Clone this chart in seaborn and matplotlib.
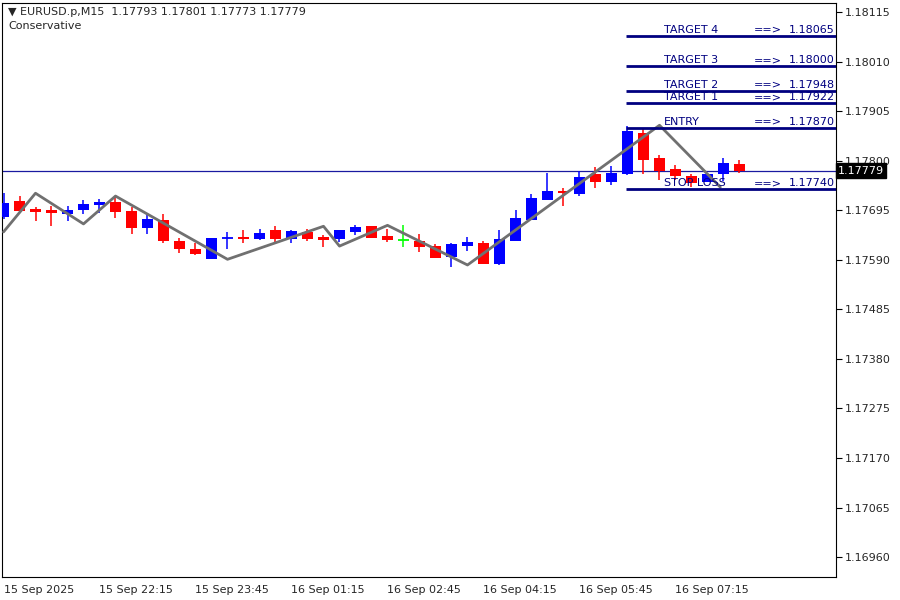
import matplotlib
matplotlib.use("Agg")
import matplotlib.pyplot as plt
import seaborn as sns
import pandas as pd
import numpy as np

opens  = [1.17680,1.17714,1.17697,1.17695,1.17687,1.17695,1.17706,1.17712,1.17693,1.17657,
          1.17674,1.17629,1.17613,1.17591,1.17636,1.17638,1.17634,1.17653,1.17634,1.17649,
          1.17638,1.17634,1.17649,1.17661,1.17640,1.17632,1.17629,1.17619,1.17596,1.17619,
          1.17625,1.17581,1.17629,1.17674,1.17716,1.17736,1.17729,1.17772,1.17755,1.17772,
          1.17858,1.17805,1.17782,1.17767,1.17755,1.17772,1.17793]
highs  = [1.17731,1.17725,1.17702,1.17704,1.17704,1.17716,1.17719,1.17725,1.17702,1.17687,
          1.17687,1.17636,1.17625,1.17636,1.17649,1.17653,1.17655,1.17661,1.17653,1.17655,
          1.17642,1.17653,1.17663,1.17661,1.17655,1.17663,1.17644,1.17623,1.17625,1.17638,
          1.17629,1.17653,1.17695,1.17729,1.17774,1.17742,1.17778,1.17786,1.17789,1.17873,
          1.17867,1.17812,1.17791,1.17772,1.17772,1.17805,1.17801]
lows   = [1.17676,1.17689,1.17672,1.17661,1.17672,1.17687,1.17689,1.17678,1.17644,1.17644,
          1.17625,1.17604,1.17600,1.17591,1.17613,1.17625,1.17632,1.17623,1.17625,1.17629,
          1.17617,1.17627,1.17642,1.17636,1.17627,1.17617,1.17606,1.17593,1.17574,1.17608,
          1.17581,1.17579,1.17629,1.17674,1.17716,1.17704,1.17725,1.17742,1.17748,1.17769,
          1.17772,1.17759,1.17759,1.17744,1.17755,1.17757,1.17773]
closes = [1.17710,1.17693,1.17691,1.17689,1.17695,1.17708,1.17712,1.17691,1.17657,1.17676,
          1.17629,1.17613,1.17602,1.17636,1.17638,1.17634,1.17646,1.17634,1.17651,1.17634,
          1.17632,1.17653,1.17659,1.17636,1.17632,1.17632,1.17617,1.17593,1.17623,1.17627,
          1.17581,1.17634,1.17678,1.17721,1.17736,1.17731,1.17765,1.17755,1.17774,1.17863,
          1.17801,1.17778,1.17767,1.17752,1.17772,1.17795,1.17779]

zz_idx = [0, 2, 5, 7, 14, 20, 21, 24, 29, 41, 44.8]
zz_price = [1.17649,1.17731,1.17666,1.17725,1.17591,1.17661,1.17619,1.17663,1.17579,1.17875,1.17744]

level_names = ["TARGET 4","TARGET 3","TARGET 2","TARGET 1","ENTRY","STOP LOSS"]
level_values = [1.18065,1.18000,1.17948,1.17922,1.17870,1.17740]

ytick_vals = [1.18115,1.18010,1.17905,1.17800,1.17695,1.17590,1.17485,1.17380,1.17275,1.17170,1.17065,1.16960]
xtick_idx = [0,6,12,18,24,30,36,42]
xtick_labels = ["15 Sep 2025","15 Sep 22:15","15 Sep 23:45","16 Sep 01:15",
                "16 Sep 02:45","16 Sep 04:15","16 Sep 05:45","16 Sep 07:15"]
last_price = 1.17779

sns.set_style("white")
plt.rcParams['font.family'] = ['DejaVu Sans']

df = pd.DataFrame({"o":opens,"h":highs,"l":lows,"c":closes})
df["i"] = np.arange(len(df))

fig = plt.figure(figsize=(9,6), dpi=100)
ax = fig.add_axes([2/900, 23/600, 834/900, 574/600])

for _, r in df.iterrows():
    if r.c > r.o:
        col = "#0000ff"
    elif r.c < r.o:
        col = "#ff0000"
    else:
        col = "#00ff00"
    ax.vlines(r.i, r.l, r.h, color=col, lw=1.1, zorder=3)
    bot = min(r.o, r.c); hgt = abs(r.c - r.o)
    if hgt < 0.00002:
        ax.hlines(r.o, r.i-0.33, r.i+0.33, color=col, lw=1.3, zorder=3)
    else:
        ax.bar(r.i, hgt, bottom=bot, width=0.65, color=col, zorder=3, linewidth=0)

zz = pd.DataFrame({"x":zz_idx,"y":zz_price})
sns.lineplot(data=zz, x="x", y="y", ax=ax, color="#707070", lw=2, sort=False, zorder=4)

ax.axhline(last_price, color="#1a1aa0", lw=0.9, zorder=2)

for name, v in zip(level_names, level_values):
    ax.hlines(v, 38.9, 52.5, color="#000080", lw=2, zorder=5)
    ax.text(41.3, v+0.00002, name, color="#000080", fontsize=8, ha="left", va="bottom", zorder=6)
    ax.text(46.9, v+0.00002, "==>", color="#000080", fontsize=8, ha="left", va="bottom", zorder=6)
    ax.text(49.1, v+0.00002, f"{v:.5f}", color="#000080", fontsize=8, ha="left", va="bottom", zorder=6)

ax.set_xlim((2-3.5)/16, (836-3.5)/16)
ax.set_ylim(1.16918, 1.18134)
ax.yaxis.tick_right()
ax.set_yticks(ytick_vals)
ax.set_yticklabels([f"{v:.5f}" for v in ytick_vals], fontsize=8)
ax.set_xticks(xtick_idx)
ax.set_xticklabels(xtick_labels, fontsize=8, ha="left")
ax.tick_params(axis="both", direction="out", length=4, width=0.8, color="black", pad=2)
for s in ax.spines.values():
    s.set_color("black"); s.set_linewidth(0.8); s.set_visible(True)
ax.set_xlabel(""); ax.set_ylabel("")
if ax.get_legend(): ax.get_legend().remove()

ax.text(1.0025, last_price, f"{last_price:.5f}", transform=ax.get_yaxis_transform(),
        fontsize=8, color="white", va="center", ha="left",
        bbox=dict(boxstyle="square,pad=0.2", fc="black", ec="black"), zorder=10, clip_on=False)

fig.text(8/900, 1-12/600, "▼ EURUSD.p,M15  1.17793 1.17801 1.17773 1.17779", fontsize=8, va="center")
fig.text(8/900, 1-26/600, "Conservative", fontsize=8, va="center")

fig.savefig("out.png", dpi=100)
